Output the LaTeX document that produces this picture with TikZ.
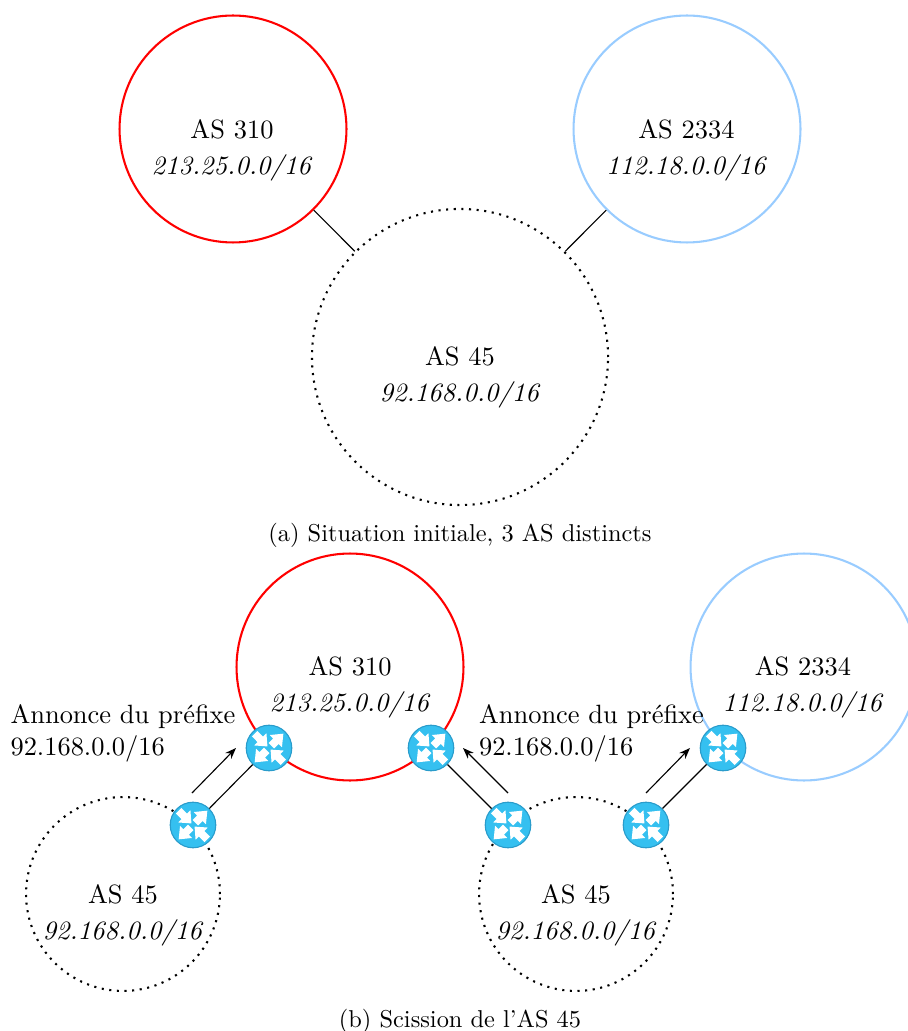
\documentclass[tikz,border=0pt]{standalone}
\usetikzlibrary{arrows.meta}
\definecolor{asblue}{HTML}{99CCFF}
\definecolor{routerfill}{HTML}{35C0F0}
\definecolor{routeredge}{HTML}{2A9CCB}
\tikzset{
 px/.style={x=0.36pt,y=-0.36pt},
 asred/.style={circle,draw=red,line width=0.75pt,minimum size=81.7pt,inner sep=0pt},
 aslight/.style={circle,draw=asblue,line width=0.75pt,minimum size=81.7pt,inner sep=0pt},
 asdot/.style={circle,draw=black,line width=0.75pt,dotted,minimum size=106.6pt,inner sep=0pt},
 asdotsmall/.style={circle,draw=black,line width=0.75pt,dotted,minimum size=69.8pt,inner sep=0pt},
 router/.style={circle,draw=routeredge,fill=routerfill,line width=0.4pt,minimum size=16.4pt,inner sep=0pt},
 arrowout/.pic={\fill[white] (1.2,-1.4)--(3.5,-1.4)--(3.5,-3.1)--(7.3,0)--(3.5,3.1)--(3.5,1.4)--(1.2,1.4)--cycle;},
 arrowin/.pic={\fill[white] (7.3,-1.4)--(4.4,-1.4)--(4.4,-3.1)--(0.8,0)--(4.4,3.1)--(4.4,1.4)--(7.3,1.4)--cycle;},
 lnk/.style={draw=black,line width=0.4pt},
 ann/.style={draw=black,line width=0.4pt,-{Stealth[length=4pt,width=3pt]}},
 astext/.style={align=center,inner sep=0pt,scale=0.952},
 lab/.style={align=left,anchor=west,inner sep=0pt,scale=0.952},
 captext/.style={inner sep=0pt,scale=0.878}
}
\newcommand{\astxt}[2]{#1\\[1.6pt]\textit{#2}}
\begin{document}
\begin{tikzpicture}[px]
\useasboundingbox (0,0) rectangle (907,1031);
% (a)
\node[asred] (r1) at (233,129) {};
\node[aslight] (b1) at (687,129) {};
\node[asdot] (d1) at (460,357) {};
\node[astext] (tr1) at (232,150.5) {\astxt{AS 310}{213.25.0.0/16}};
\node[astext] (tb1) at (686.5,150.5) {\astxt{AS 2334}{112.18.0.0/16}};
\node[astext] (td1) at (460,377.5) {\astxt{AS 45}{92.168.0.0/16}};
\draw[lnk] (r1) -- (d1);
\draw[lnk] (b1) -- (d1);
\node[captext] (ca) at (460,535.5) {(a) Situation initiale, 3 AS distincts};
% (b)
\node[asred] (r2) at (350,667) {};
\node[aslight] (b2) at (804,667) {};
\node[asdotsmall] (d2) at (123,894) {};
\node[asdotsmall] (d3) at (576,894) {};
\node[astext] (tr2) at (350,687.5) {\astxt{AS 310}{213.25.0.0/16}};
\node[astext] (tb2) at (803,687.5) {\astxt{AS 2334}{112.18.0.0/16}};
\node[astext] (td2) at (123,915) {\astxt{AS 45}{92.168.0.0/16}};
\node[astext] (td3) at (576,915) {\astxt{AS 45}{92.168.0.0/16}};
\node[router] (k1) at (269,748) {};
\node[router] (k2) at (193,825) {};
\node[router] (k3) at (431,748) {};
\node[router] (k4) at (508,825) {};
\node[router] (k5) at (646,825) {};
\node[router] (k6) at (723,748) {};
\foreach \kn in {k1,k2,k3,k4,k5,k6}{
 \pic[x=1pt,y=1pt,rotate=45] at (\kn) {arrowout};
 \pic[x=1pt,y=1pt,rotate=225] at (\kn) {arrowout};
 \pic[x=1pt,y=1pt,rotate=135] at (\kn) {arrowin};
 \pic[x=1pt,y=1pt,rotate=315] at (\kn) {arrowin};
}
\draw[lnk] (k2) -- (k1);
\draw[lnk] (k4) -- (k3);
\draw[lnk] (k5) -- (k6);
\coordinate (a1s) at (192,793); \coordinate (a1e) at (236,748);
\coordinate (a2s) at (508,793); \coordinate (a2e) at (463,748);
\coordinate (a3s) at (646,793); \coordinate (a3e) at (690,748);
\draw[ann] (a1s) -- (a1e);
\draw[ann] (a2s) -- (a2e);
\draw[ann] (a3s) -- (a3e);
\node[lab] (l1) at (10,733.5) {Annonce du préfixe\\92.168.0.0/16};
\node[lab] (l2) at (478.5,733.5) {Annonce du préfixe\\92.168.0.0/16};
\node[captext] (cb) at (460,1021) {(b) Scission de l'AS 45};
\end{tikzpicture}
\end{document}
